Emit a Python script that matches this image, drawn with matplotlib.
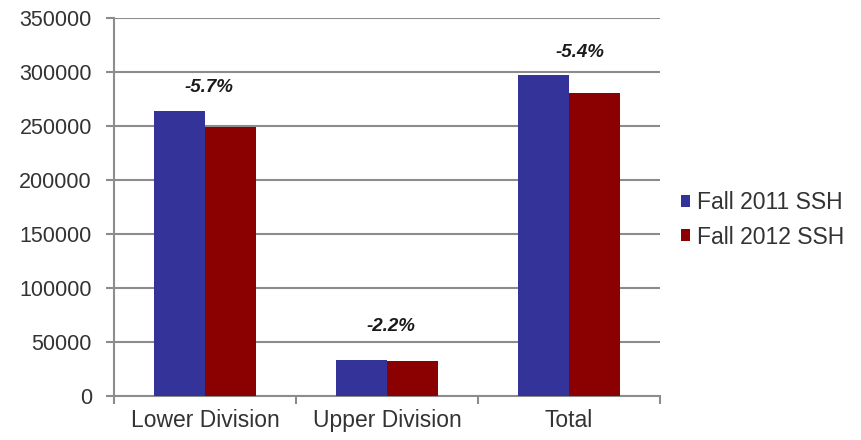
import matplotlib
matplotlib.use("Agg")
import matplotlib.pyplot as plt
import numpy as np

categories = ["Lower Division", "Upper Division", "Total"]
fall_2011 = [264000, 33500, 297200]
fall_2012 = [249300, 32800, 280900]
pct_labels = ["-5.7%", "-2.2%", "-5.4%"]
label_y = [286000, 64000, 318500]
label_dx = [0.02, 0.02, 0.06]
series_names = ["Fall 2011 SSH", "Fall 2012 SSH"]
yticks = [0, 50000, 100000, 150000, 200000, 250000, 300000, 350000]

plt.rcParams['font.family'] = ['Liberation Sans', 'DejaVu Sans']

fig = plt.figure(figsize=(8.62, 4.4), dpi=100)
ax = fig.add_axes([0.1323, 0.1, 0.7657 - 0.1323, 0.959 - 0.1])

x = np.arange(len(categories))
w = 0.28
c1, c2 = "#333399", "#8B0000"
ax.bar(x - w / 2, fall_2011, w, color=c1, label=series_names[0], zorder=3)
ax.bar(x + w / 2, fall_2012, w, color=c2, label=series_names[1], zorder=3)

for xi, dx, lab, ly in zip(x, label_dx, pct_labels, label_y):
    ax.text(xi + dx, ly, lab, ha="center", va="center", fontsize=13.5,
            fontweight="bold", fontstyle="italic", color="#1a1a1a")

ax.set_xlim(-0.5, 2.5)
ax.set_ylim(0, 350000)
ax.set_yticks(yticks)
ax.set_yticklabels([str(v) for v in yticks], fontsize=15.5, color="#333333")
ax.yaxis.grid(True, color="#8c8c8c", linewidth=1.5, zorder=0)
ax.set_axisbelow(True)

ax.set_xticks(x)
ax.set_xticklabels(categories, fontsize=16.5, color="#333333")
ax.tick_params(axis="x", length=0, pad=9)
ax.set_xticks([-0.5, 0.5, 1.5, 2.5], minor=True)
ax.tick_params(axis="x", which="minor", length=6, color="#8c8c8c", width=1.5)
ax.tick_params(axis="y", length=6, color="#8c8c8c", width=1.5, pad=10)

for s in ["top", "right"]:
    ax.spines[s].set_visible(False)
for s in ["left", "bottom"]:
    ax.spines[s].set_color("#8c8c8c")
    ax.spines[s].set_linewidth(1.5)

ax.legend(loc="center left", bbox_to_anchor=(1.0, 0.466), frameon=False,
          fontsize=16.5, handlelength=0.42, handleheight=0.42, handletextpad=0.3,
          labelspacing=0.5, labelcolor="#333333")

fig.savefig("out.png", dpi=100)
